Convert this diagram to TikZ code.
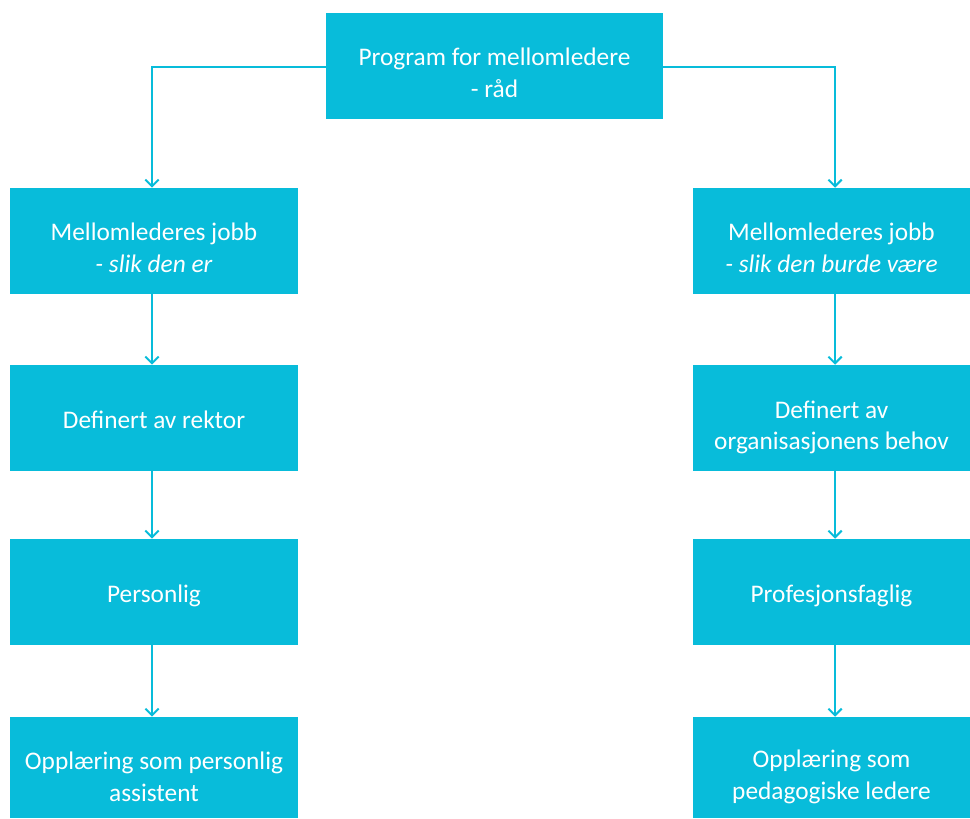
\documentclass[tikz,border=0pt]{standalone}
\usepackage{fontspec}
\setmainfont{Carlito}
\usetikzlibrary{arrows.meta}
\definecolor{boxc}{HTML}{08BCDA}
\begin{document}
\begin{tikzpicture}[x=0.75pt,y=-0.75pt,
  box/.style={fill=boxc,draw=none,inner sep=0pt},
  txt/.style={text=white,align=center,inner sep=0pt,
    font=\fontsize{19}{23.5}\selectfont},
  conn/.style={draw=boxc,line width=1.5pt,-{Straight Barb[length=5pt,width=10pt,line width=1.5pt]}}]
\useasboundingbox (0,0) rectangle (970,818);
\node[box,minimum width=337*0.75pt,minimum height=106*0.75pt] (top) at (494.5,66) {};
\node[box,minimum width=288*0.75pt,minimum height=106*0.75pt] (l1) at (154,241) {};
\node[box,minimum width=288*0.75pt,minimum height=106*0.75pt] (l2) at (154,418) {};
\node[box,minimum width=288*0.75pt,minimum height=106*0.75pt] (l3) at (154,592) {};
\node[box,minimum width=288*0.75pt,minimum height=101*0.75pt] (l4) at (154,767.5) {};
\node[box,minimum width=277*0.75pt,minimum height=106*0.75pt] (r1) at (831.5,241) {};
\node[box,minimum width=277*0.75pt,minimum height=106*0.75pt] (r2) at (831.5,418) {};
\node[box,minimum width=277*0.75pt,minimum height=106*0.75pt] (r3) at (831.5,592) {};
\node[box,minimum width=277*0.75pt,minimum height=101*0.75pt] (r4) at (831.5,767.5) {};
\node[txt] (topt) at ([yshift=-5pt]top.center) {Program for mellomledere\\- råd};
\node[txt] (l1t) at ([yshift=-5pt]l1.center) {Mellomlederes jobb\\\textit{- slik den er}};
\node[txt] (l2t) at ([yshift=-1pt]l2.center) {Definert av rektor};
\node[txt] (l3t) at ([yshift=-3pt]l3.center) {Personlig};
\node[txt] (l4t) at ([yshift=-7pt]l4.center) {Opplæring som personlig\\assistent};
\node[txt] (r1t) at ([yshift=-5pt]r1.center) {Mellomlederes jobb\\\textit{- slik den burde være}};
\node[txt] (r2t) at ([yshift=-7pt]r2.center) {Definert av\\organisasjonens behov};
\node[txt] (r3t) at ([yshift=-3pt]r3.center) {Profesjonsfaglig};
\node[txt] (r4t) at ([yshift=-7pt]r4.center) {Opplæring som\\pedagogiske ledere};
\coordinate (lc) at (152,67);
\coordinate (rc) at (835,67);
\draw[conn] (top.west |- lc) -- (lc) -- (lc |- l1.north);
\draw[conn] (top.east |- rc) -- (rc) -- (rc |- r1.north);
\foreach \a/\b in {l1/l2,l2/l3,l3/l4}{\draw[conn] (lc |- \a.south) -- (lc |- \b.north);}
\foreach \a/\b in {r1/r2,r2/r3,r3/r4}{\draw[conn] (rc |- \a.south) -- (rc |- \b.north);}
\end{tikzpicture}
\end{document}
